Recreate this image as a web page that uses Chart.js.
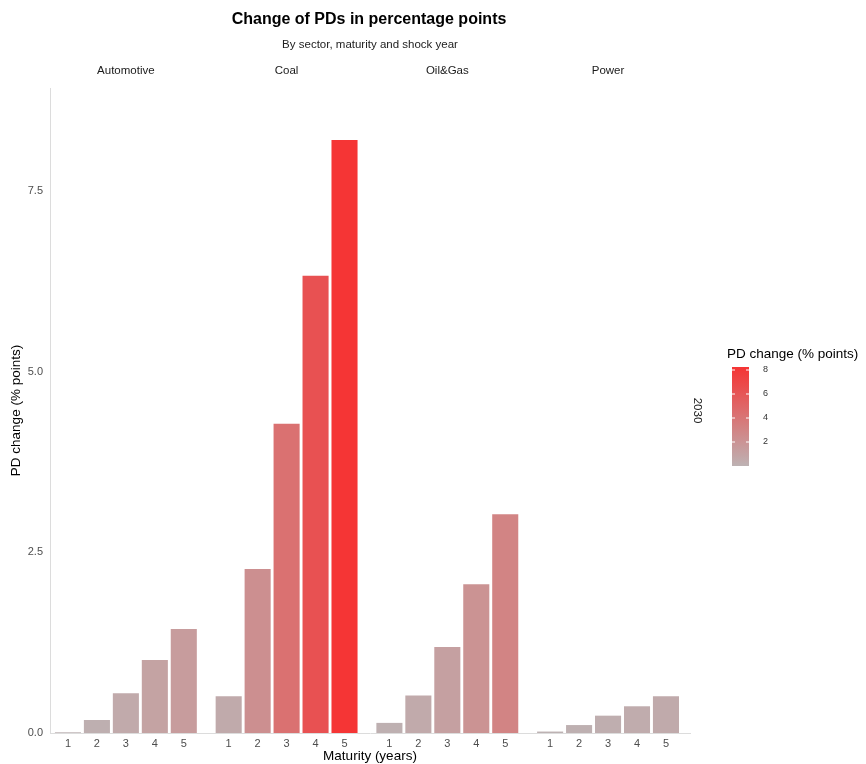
<!DOCTYPE html>
<html>
<head>
<meta charset="utf-8">
<script src="https://cdn.jsdelivr.net/npm/chart.js@4"></script>
<style>
  html, body { margin: 0; padding: 0; background: #fff; }
  #wrap { width: 866px; height: 764px; }
</style>
</head>
<body>
<div id="wrap"><canvas id="pdChart" width="866" height="764"></canvas></div>
<script>
const sectors = ['Automotive', 'Coal', 'Oil&Gas', 'Power'];
const maturities = [1, 2, 3, 4, 5];
const automotive = [0.01, 0.18, 0.55, 1.01, 1.44];
const coal = [0.51, 2.27, 4.28, 6.33, 8.21];
const oilGas = [0.14, 0.52, 1.19, 2.06, 3.03];
const power = [0.02, 0.11, 0.24, 0.37, 0.51];
const shockYear = '2030';
const legendTicks = [2, 4, 6, 8];

const values = [automotive, coal, oilGas, power];
const panelStep = 5.55; // distance between facets in bar units
const FONT = '"Liberation Sans", Arial, sans-serif';

const lowCol = [189, 178, 179];
const highCol = [245, 52, 52];
const maxFill = 8.25;
const fillFor = (v) => {
  const t = Math.max(0, Math.min(1, v / maxFill));
  const c = lowCol.map((l, k) => Math.round(l + (highCol[k] - l) * t));
  return `rgb(${c[0]}, ${c[1]}, ${c[2]})`;
};

const points = [];
const tickPos = [];
values.forEach((arr, p) => {
  arr.forEach((v, i) => {
    const x = p * panelStep + maturities[i];
    points.push({ x: x, y: v });
    tickPos.push(x);
  });
});

const decor = {
  id: 'decor',
  afterDraw(chart) {
    const ctx = chart.ctx;
    const xs = chart.scales.x;
    const area = chart.chartArea;
    ctx.save();
    ctx.textAlign = 'center';
    ctx.textBaseline = 'middle';

    ctx.fillStyle = '#000';
    ctx.font = `bold 16px ${FONT}`;
    ctx.fillText('Change of PDs in percentage points', 369, 20);
    ctx.fillStyle = '#222';
    ctx.font = `11.5px ${FONT}`;
    ctx.fillText('By sector, maturity and shock year', 370, 45);

    // facet strips
    ctx.fillStyle = '#1a1a1a';
    ctx.font = `11.5px ${FONT}`;
    sectors.forEach((s, p) => {
      const cx = xs.getPixelForValue(p * panelStep + 3);
      ctx.fillText(s, cx, 71);
    });

    // right strip (shock year)
    ctx.save();
    ctx.translate(697, (area.top + area.bottom) / 2);
    ctx.rotate(Math.PI / 2);
    ctx.fillText(shockYear, 0, 0);
    ctx.restore();

    // colour bar legend
    const barX = 732, barW = 17, barTop = 367, zeroY = 466, perUnit = 12;
    ctx.textAlign = 'left';
    ctx.fillStyle = '#000';
    ctx.font = `13.5px ${FONT}`;
    ctx.fillText('PD change (% points)', 727, 354);
    const grad = ctx.createLinearGradient(0, zeroY, 0, barTop);
    for (let k = 0; k <= 10; k++) {
      grad.addColorStop(k / 10, fillFor(maxFill * k / 10));
    }
    ctx.fillStyle = grad;
    ctx.fillRect(barX, barTop, barW, zeroY - barTop);
    ctx.strokeStyle = '#fff';
    ctx.lineWidth = 1;
    ctx.fillStyle = '#333';
    ctx.font = `9px ${FONT}`;
    legendTicks.forEach((t) => {
      const y = zeroY - t * perUnit;
      ctx.beginPath();
      ctx.moveTo(barX, y); ctx.lineTo(barX + 3, y);
      ctx.moveTo(barX + barW - 3, y); ctx.lineTo(barX + barW, y);
      ctx.stroke();
      ctx.fillText(String(t), 763, y);
    });
    ctx.restore();
  }
};

const ctx = document.getElementById('pdChart').getContext('2d');
new Chart(ctx, {
  type: 'bar',
  data: {
    datasets: [{
      data: points,
      backgroundColor: points.map(pt => fillFor(pt.y)),
      barPercentage: 0.9,
      categoryPercentage: 1.0,
      borderWidth: 0
    }]
  },
  options: {
    responsive: false,
    animation: false,
    layout: { padding: { top: 88, right: 176, left: 0, bottom: 0 } },
    plugins: { legend: { display: false }, tooltip: { enabled: false } },
    scales: {
      x: {
        type: 'linear',
        offset: false,
        min: 0.38,
        max: 3 * panelStep + 5 + 0.83,
        grid: { display: false, drawTicks: false },
        border: { display: true, color: '#dcdcdc', width: 1 },
        afterBuildTicks: (scale) => { scale.ticks = tickPos.map(v => ({ value: v })); },
        afterFit: (scale) => { scale.height = 31; },
        ticks: {
          autoSkip: false,
          maxRotation: 0,
          padding: 4,
          color: '#4d4d4d',
          font: { family: FONT, size: 11 },
          callback: (v, i) => String(maturities[i % 5])
        },
        title: {
          display: true,
          text: 'Maturity (years)',
          color: '#000',
          padding: { top: 0, bottom: 0 },
          font: { family: FONT, size: 13.5 }
        }
      },
      y: {
        min: 0,
        max: 8.93,
        grid: { display: false, drawTicks: false },
        border: { display: true, color: '#dcdcdc', width: 1 },
        afterFit: (scale) => { scale.width = 50; },
        ticks: {
          stepSize: 2.5,
          includeBounds: false,
          padding: 7,
          color: '#4d4d4d',
          font: { family: FONT, size: 11 },
          callback: (v) => v.toFixed(1)
        },
        title: {
          display: true,
          text: 'PD change (% points)',
          color: '#000',
          padding: { top: 8, bottom: 0 },
          font: { family: FONT, size: 13.5 }
        }
      }
    }
  },
  plugins: [decor]
});
</script>
</body>
</html>
